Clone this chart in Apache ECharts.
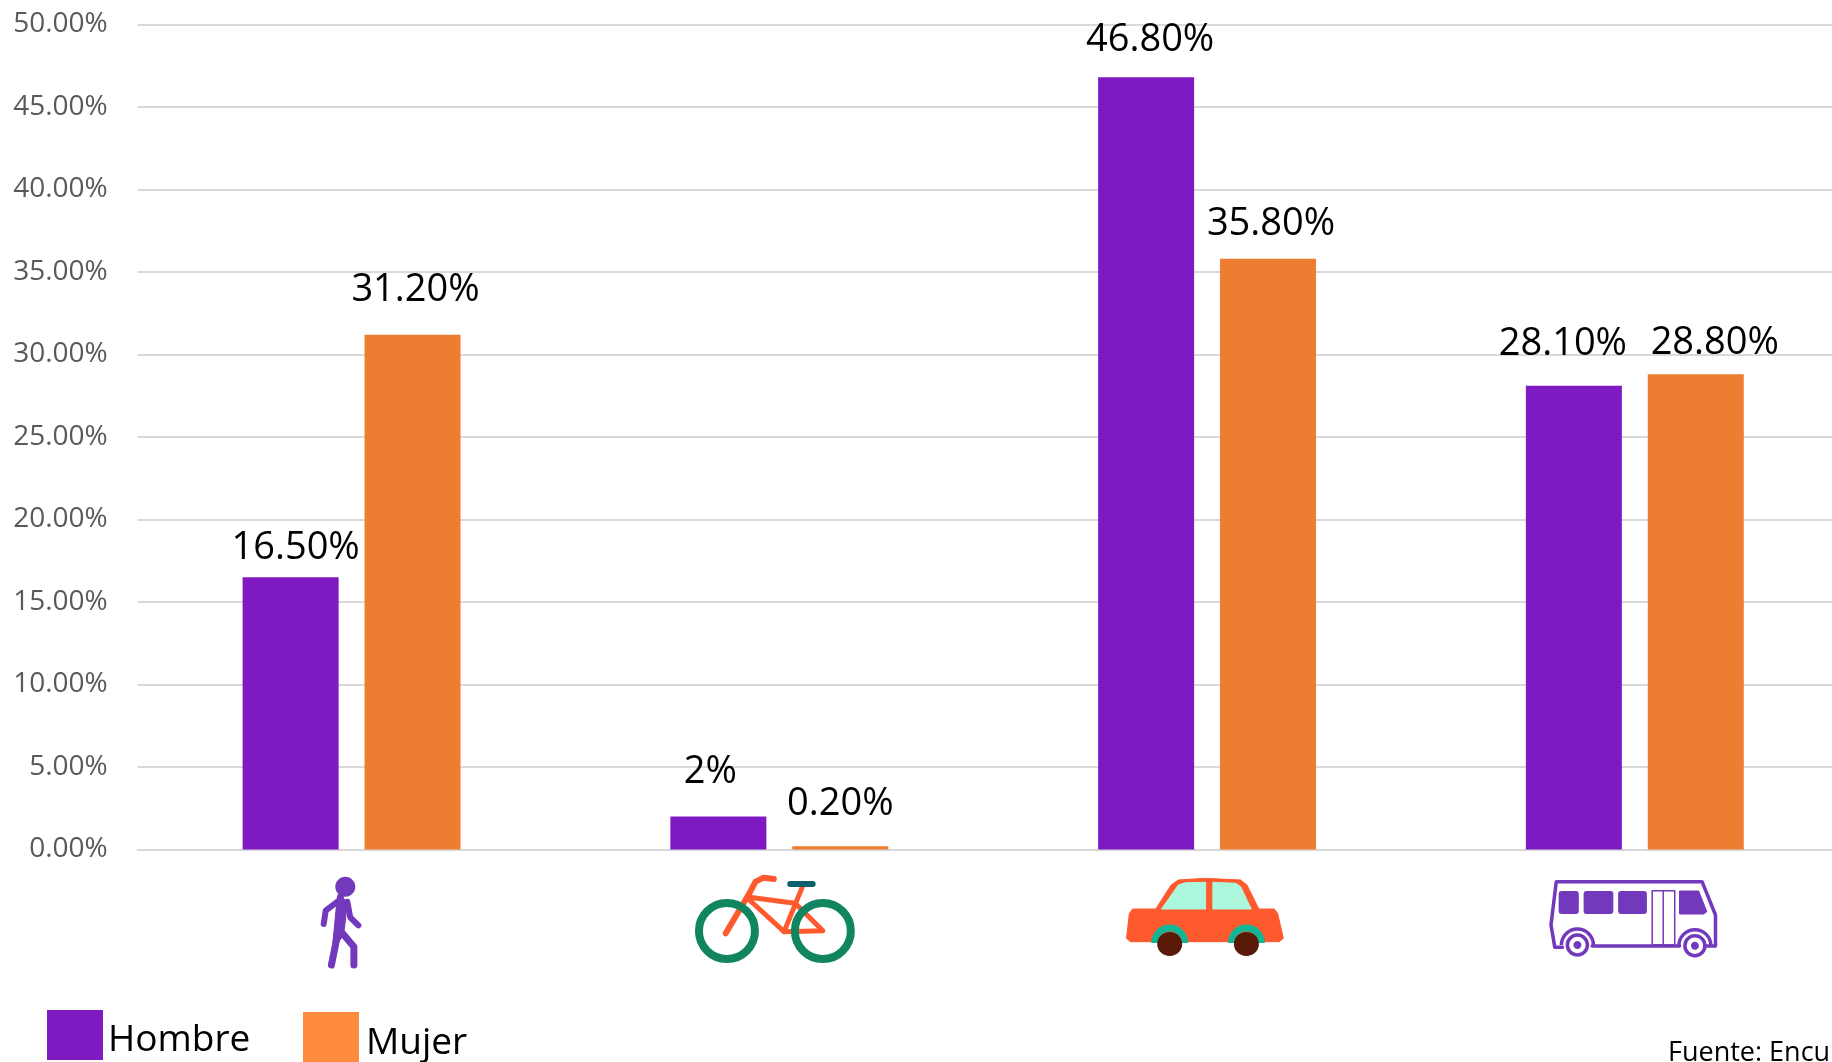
<!DOCTYPE html>
<html>
<head>
<meta charset="utf-8">
<title>Modo de transporte por sexo</title>
<script src="https://cdn.jsdelivr.net/npm/echarts@6/dist/echarts.min.js"></script>
<style>
	html, body { margin: 0; padding: 0; background: #fff; overflow: hidden; }
	#chart { width: 1832px; height: 1062px; }
</style>
</head>
<body>
<div id="chart"></div>
<script>
// datos
var categorias = ['Caminando', 'Bicicleta', 'Auto', 'Transporte público'];
var hombre = [16.5, 2, 46.8, 28.1];
var mujer = [31.2, 0.2, 35.8, 28.8];
var textoHombre = ['16.50%', '2%', '46.80%', '28.10%'];
var textoMujer = ['31.20%', '0.20%', '35.80%', '28.80%'];
var fuente = 'Fuente: Encu';

// las etiquetas del original no van centradas sobre la barra
var ajusteHombre = [[5, -10], [-8, -25], [4, -18], [-11, -23]];
var ajusteMujer = [[3, -26], [0, -23], [3, -16], [19, -12]];

var MORADO = '#7F19C2';
var NARANJA = '#ED7D31';
var ICONO = '#7239BC';
var ROJO = '#FF5A2E';
var VERDE = '#108560';
var letra = '"Open Sans", sans-serif';

function puntos(valores, textos, ajustes) {
	return valores.map(function (v, i) {
		return {
			value: v,
			label: { formatter: textos[i], offset: ajustes[i] }
		};
	});
}

// los iconos se midieron sobre recortes ampliados, cada uno con su escala
function escala(x0, y0, kx, ky) {
	return function (p) {
		return p.map(function (q) {
			return [x0 + q[0] / kx, y0 + q[1] / ky];
		});
	};
}
function linea(p, color, ancho) {
	return {
		type: 'polyline',
		shape: { points: p },
		style: { stroke: color, lineWidth: ancho, fill: null, lineCap: 'round', lineJoin: 'round' }
	};
}
function poli(p, color) {
	return {
		type: 'polygon',
		shape: { points: p },
		style: { fill: color, stroke: color, lineWidth: 1, lineJoin: 'round' }
	};
}
function elipse(cx, cy, rx, ry, fill, stroke, ancho) {
	return {
		type: 'ellipse',
		shape: { cx: cx, cy: cy, rx: rx, ry: ry },
		style: { fill: fill, stroke: stroke || null, lineWidth: ancho || 0 }
	};
}
function arco(cx, cy, r, color, ancho) {
	return {
		type: 'arc',
		shape: { cx: cx, cy: cy, r: r, startAngle: Math.PI, endAngle: Math.PI * 2 },
		style: { stroke: color, lineWidth: ancho, fill: null }
	};
}
function ventana(p0, p1, color) {
	return {
		type: 'rect',
		shape: { x: p0[0], y: p0[1], width: p1[0] - p0[0], height: p1[1] - p0[1], r: 3 },
		style: { fill: color }
	};
}

var a = escala(280, 860, 2.45, 3);
var b = escala(1080, 860, 2.085, 3);

var iconos = [
	// caminando
	elipse(345.3, 886.7, 10, 10, ICONO),
	poli(a([[145, 105], [165, 125], [158, 205], [150, 235], [128, 270], [138, 140]]), ICONO),
	linea(a([[148, 118], [112, 152], [107, 192]]), ICONO, 6),
	linea(a([[165, 125], [172, 172], [192, 196]]), ICONO, 6),
	linea(a([[148, 112], [145, 200], [126, 315]]), ICONO, 7),
	linea(a([[150, 215], [181, 260], [181, 315]]), ICONO, 7),

	// bicicleta
	linea(a([[1210, 57], [1185, 53], [1165, 65], [1150, 100], [1092, 220]]), ROJO, 6),
	linea(a([[1150, 112], [1262, 130], [1330, 212], [1235, 215], [1150, 120]]), ROJO, 5),
	linea(a([[1280, 80], [1235, 215]]), ROJO, 5),
	linea(a([[1250, 72], [1305, 72]]), '#0D5F6B', 6),
	elipse(280 + 1095 / 2.45, 931, 28, 28, null, VERDE, 8),
	elipse(280 + 1330 / 2.45, 931, 28, 28, null, VERDE, 8),

	// auto
	poli(b([[158, 147], [190, 75], [205, 60], [260, 55], [335, 60], [348, 75], [373, 147]]), ROJO),
	poli(b([[110, 147], [405, 147], [412, 160], [424, 235], [415, 245], [105, 245], [97, 235], [103, 160]]), ROJO),
	poli(b([[170, 147], [205, 75], [220, 68], [262, 67], [262, 147]]), '#ACF8DC'),
	poli(b([[277, 67], [325, 70], [335, 80], [357, 147], [277, 147]]), '#ACF8DC'),
	arco(1169.7, 943, 15, '#12B594', 7),
	arco(1246.4, 943, 15, '#12B594', 7),
	elipse(1169.7, 944, 12.5, 12, '#5A1A08'),
	elipse(1246.4, 944, 12.5, 12, '#5A1A08'),

	// transporte publico
	linea(b([[1305, 258], [1325, 258], [1325, 165], [1297, 65], [993, 65], [982, 195], [990, 262], [1006, 262]]), ICONO, 3.5),
	linea(b([[1068, 258], [1250, 258]]), ICONO, 3.5),
	arco(1577.4, 945, 16, ICONO, 3.5),
	arco(1694.9, 945.7, 16, ICONO, 3.5),
	elipse(1577.4, 945, 10, 10, '#fff', ICONO, 3.5),
	elipse(1694.9, 945.7, 10, 10, '#fff', ICONO, 3.5),
	elipse(1577.4, 945, 4, 4, ICONO),
	elipse(1694.9, 945.7, 4, 4, ICONO),
	ventana(b([[998, 93]])[0], b([[1040, 162]])[0], ICONO),
	ventana(b([[1050, 93]])[0], b([[1112, 162]])[0], ICONO),
	ventana(b([[1122, 93]])[0], b([[1182, 162]])[0], ICONO),
	poli(b([[1250, 93], [1290, 93], [1307, 155], [1300, 162], [1250, 162]]), ICONO),
	linea(b([[1193, 92], [1240, 92], [1240, 255], [1193, 255], [1193, 92]]), ICONO, 1.5),
	linea(b([[1216, 92], [1216, 255]]), ICONO, 1.5),

	{
		type: 'text',
		x: 1668,
		y: 1040,
		style: { text: fuente, font: '27px ' + letra, fill: '#000' }
	}
];

var myChart = echarts.init(document.getElementById('chart'));

myChart.setOption({
	animation: false,
	// el grafico original se sale por la derecha
	grid: { left: 137.7, top: 24.5, width: 1711, height: 825, outerBoundsMode: 'none' },
	legend: [
		{
			data: [{ name: 'Hombre', itemStyle: { color: MORADO } }],
			left: 47,
			top: 1010,
			padding: 0,
			itemWidth: 56,
			itemHeight: 50,
			itemGap: 6,
			icon: 'rect',
			formatter: '{t|{name}}',
			textStyle: {
				fontSize: 37,
				fontFamily: letra,
				color: '#000',
				rich: { t: { fontSize: 37, fontFamily: letra, color: '#000', padding: [10, 0, 0, 0] } }
			}
		},
		{
			data: [{ name: 'Mujer', itemStyle: { color: '#FF8B3D' } }],
			left: 303,
			top: 1012,
			padding: 0,
			itemWidth: 56,
			itemHeight: 50,
			itemGap: 6,
			icon: 'rect',
			formatter: '{t|{name}}',
			textStyle: {
				fontSize: 37,
				fontFamily: letra,
				color: '#000',
				rich: { t: { fontSize: 37, fontFamily: letra, color: '#000', padding: [12, 0, 0, 2] } }
			}
		}
	],
	xAxis: {
		type: 'category',
		data: categorias,
		axisTick: { show: false },
		axisLabel: { show: false },
		axisLine: { lineStyle: { color: '#D9D9D9', width: 2 } }
	},
	yAxis: {
		type: 'value',
		min: 0,
		max: 50,
		interval: 5,
		axisLine: { show: false },
		axisTick: { show: false },
		axisLabel: {
			margin: 30,
			fontSize: 28,
			fontFamily: letra,
			color: '#595959',
			formatter: function (v) { return v.toFixed(2) + '%'; }
		},
		splitLine: { lineStyle: { color: '#D9D9D9', width: 2 } }
	},
	series: [
		{
			name: 'Hombre',
			type: 'bar',
			barWidth: 96,
			barGap: '27%',
			itemStyle: { color: MORADO },
			label: { show: true, position: 'top', distance: 0, fontSize: 38, fontFamily: letra, color: '#000' },
			data: puntos(hombre, textoHombre, ajusteHombre)
		},
		{
			name: 'Mujer',
			type: 'bar',
			barWidth: 96,
			itemStyle: { color: NARANJA },
			label: { show: true, position: 'top', distance: 0, fontSize: 38, fontFamily: letra, color: '#000' },
			data: puntos(mujer, textoMujer, ajusteMujer)
		}
	],
	graphic: { elements: iconos }
});
</script>
</body>
</html>
